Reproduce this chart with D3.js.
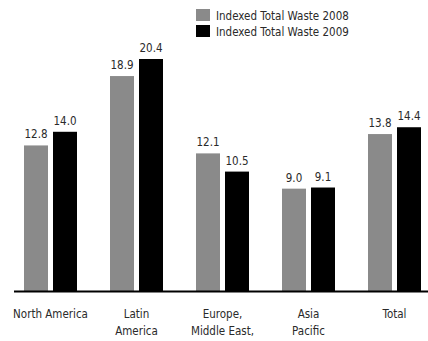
<!DOCTYPE html>
<html>
<head>
<meta charset="utf-8">
<script src="https://cdn.jsdelivr.net/npm/d3@7"></script>
<style>
  html, body { margin: 0; padding: 0; background: #fff; }
  svg { display: block; font-family: "DejaVu Sans Condensed", "Liberation Sans", Arial, sans-serif; font-stretch: condensed; }
</style>
</head>
<body>
<svg id="chart" width="428" height="341"></svg>
<script>
// Regions (each label split into lines)
const categories = ["North America", "Latin America", "Europe, Middle East,", "Asia Pacific", "Total"];
const categoryLines = [["North America"], ["Latin", "America"], ["Europe,", "Middle East,"], ["Asia", "Pacific"], ["Total"]];
const seriesNames = ["Indexed Total Waste 2008", "Indexed Total Waste 2009"];
const waste2008 = [12.8, 18.9, 12.1, 9.0, 13.8];
const waste2009 = [14.0, 20.4, 10.5, 9.1, 14.4];
const seriesColors = ["#8a8a8a", "#000000"];

const values = [waste2008, waste2009];
const svg = d3.select("#chart");

const baseline = 291;
const x0 = d3.scaleBand().domain(categories).range([7.5, 437.5]).paddingInner(0).paddingOuter(0);
const x1 = d3.scaleBand().domain(seriesNames).range([-26.5, 26.5]).paddingInner(5 / 29).paddingOuter(0);
const y = d3.scaleLinear().domain([0, 20.4]).range([baseline, 59]);

const rows = categories.map((c, i) => ({
  cat: c,
  bars: seriesNames.map((s, j) => ({ series: s, value: values[j][i], color: seriesColors[j] }))
}));

const groups = svg.selectAll("g.group")
  .data(rows)
  .join("g")
  .attr("class", "group")
  .attr("transform", d => `translate(${x0(d.cat) + x0.bandwidth() / 2},0)`);

groups.selectAll("rect")
  .data(d => d.bars)
  .join("rect")
  .attr("x", d => x1(d.series))
  .attr("width", x1.bandwidth())
  .attr("y", d => y(d.value))
  .attr("height", d => baseline - y(d.value))
  .attr("fill", d => d.color);

groups.selectAll("text.val")
  .data(d => d.bars)
  .join("text")
  .attr("class", "val")
  .attr("x", d => x1(d.series) + x1.bandwidth() / 2)
  .attr("y", d => y(d.value) - 7)
  .attr("text-anchor", "middle")
  .attr("font-size", 11.5)
  .attr("fill", "#2a2a2a")
  .text(d => d.value.toFixed(1));

// Baseline axis
svg.append("line")
  .attr("x1", 14).attr("x2", 428)
  .attr("y1", baseline + 0.5).attr("y2", baseline + 0.5)
  .attr("stroke", "#000").attr("stroke-width", 2);

// Category labels
groups.each(function (d, i) {
  const t = d3.select(this).append("text")
    .attr("text-anchor", "middle")
    .attr("font-size", 11.5)
    .attr("fill", "#2a2a2a");
  categoryLines[i].forEach((line, k) => {
    t.append("tspan").attr("x", 0).attr("y", 318 + k * 17).text(line);
  });
});

// Legend
const legend = svg.append("g").attr("transform", "translate(196,9)");
seriesNames.forEach((s, j) => {
  const g = legend.append("g").attr("transform", `translate(0,${j * 16})`);
  g.append("rect").attr("width", 14).attr("height", 12).attr("fill", seriesColors[j]);
  g.append("text").attr("x", 20).attr("y", 11).attr("font-size", 11.5).attr("fill", "#2a2a2a").text(s);
});
</script>
</body>
</html>
